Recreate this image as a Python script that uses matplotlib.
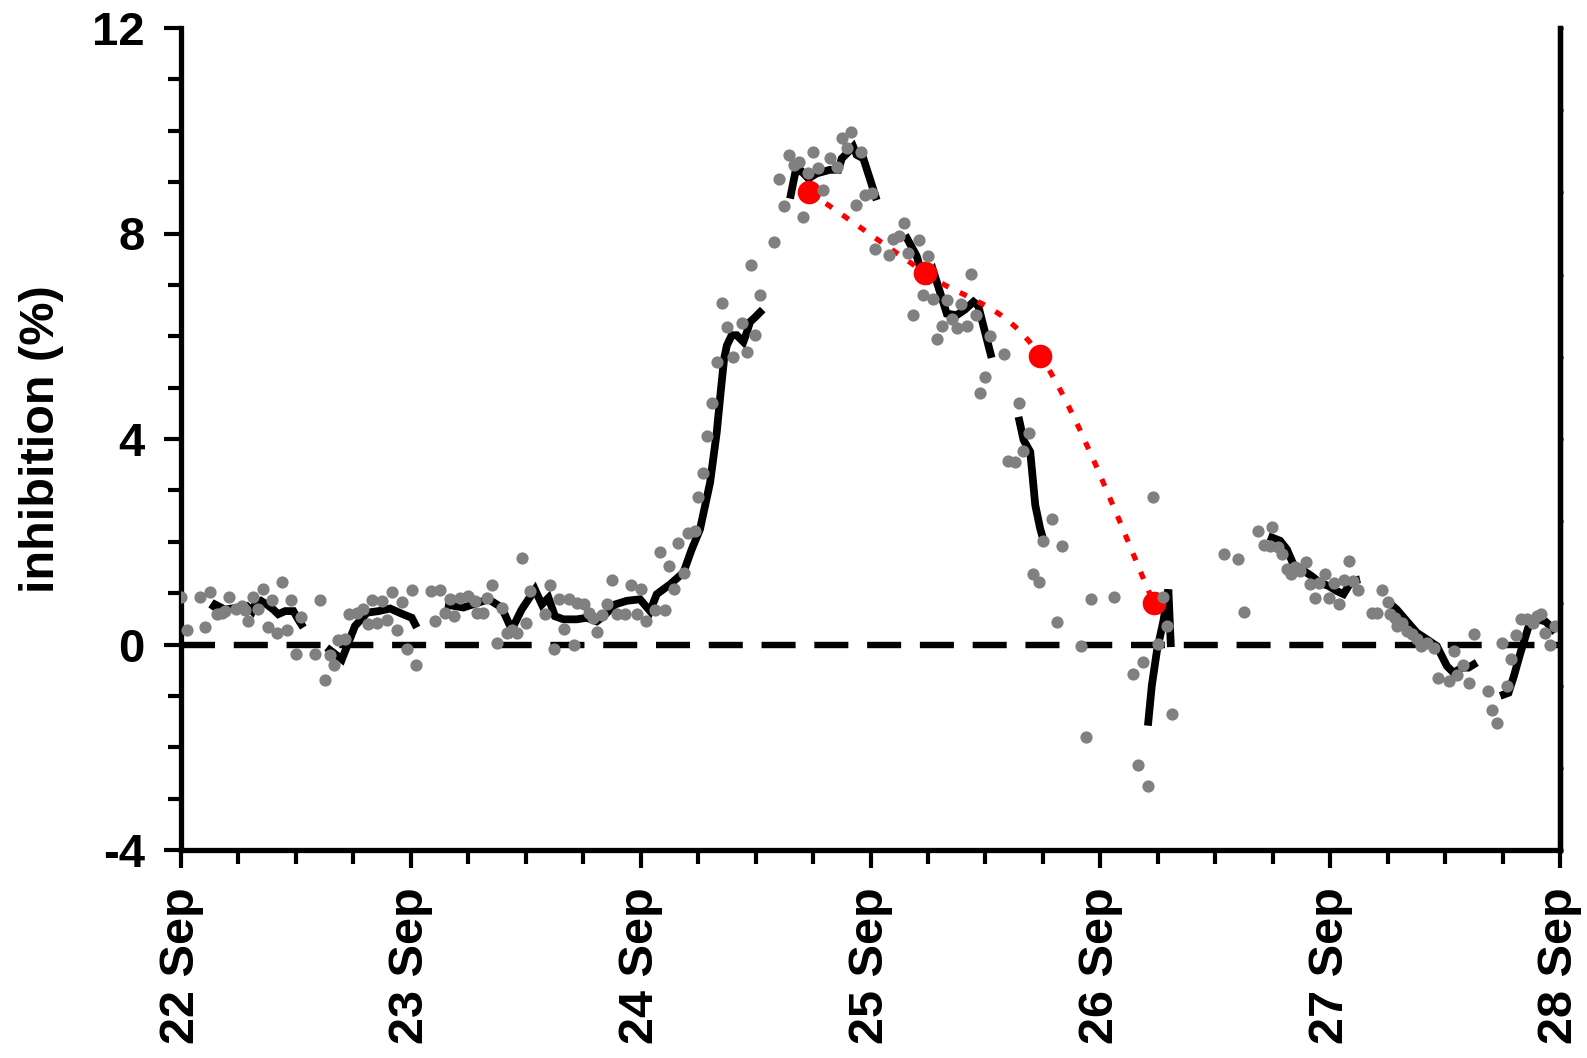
import numpy as np
import matplotlib
matplotlib.use("Agg")
import matplotlib.pyplot as plt
from matplotlib.path import Path
from matplotlib.patches import PathPatch

plt.rcParams['font.family'] = ['Liberation Sans', 'DejaVu Sans']
plt.rcParams['font.weight'] = 'bold'
plt.rcParams['lines.scale_dashes'] = False

# ---------------- data (x = days since 22 Sep 00:00) ----------------
obs_day = [0.000, 0.025, 0.083, 0.104, 0.126, 0.155, 0.177, 0.191, 0.210, 0.239,
           0.264, 0.278, 0.293, 0.315, 0.334, 0.356, 0.377, 0.397, 0.416, 0.438,
           0.460, 0.479, 0.500, 0.522, 0.583, 0.605, 0.627, 0.648, 0.667, 0.685,
           0.714, 0.731, 0.765, 0.793, 0.812, 0.833, 0.852, 0.873, 0.896, 0.917,
           0.938, 0.960, 0.982, 1.004, 1.021, 1.088, 1.105, 1.129, 1.147, 1.171,
           1.188, 1.214, 1.250, 1.279, 1.287, 1.315, 1.333, 1.355, 1.376, 1.395,
           1.417, 1.439, 1.464, 1.482, 1.501, 1.519, 1.584, 1.606, 1.625, 1.646,
           1.667, 1.690, 1.710, 1.722, 1.754, 1.775, 1.794, 1.812, 1.833, 1.853,
           1.874, 1.896, 1.932, 1.958, 1.983, 2.002, 2.023, 2.063, 2.084, 2.106,
           2.125, 2.147, 2.164, 2.189, 2.208, 2.237, 2.248, 2.273, 2.290, 2.312,
           2.334, 2.353, 2.375, 2.403, 2.440, 2.462, 2.479, 2.498, 2.520, 2.582,
           2.604, 2.624, 2.646, 2.665, 2.690, 2.708, 2.730, 2.749, 2.773, 2.792,
           2.824, 2.853, 2.875, 2.897, 2.914, 2.937, 2.958, 2.977, 3.005, 3.020,
           3.082, 3.100, 3.124, 3.146, 3.165, 3.184, 3.209, 3.228, 3.251, 3.271,
           3.291, 3.310, 3.332, 3.353, 3.375, 3.394, 3.418, 3.436, 3.459, 3.477,
           3.499, 3.520, 3.582, 3.600, 3.629, 3.644, 3.663, 3.688, 3.706, 3.731,
           3.750, 3.789, 3.813, 3.832, 3.915, 3.937, 3.958, 4.061, 4.144, 4.166,
           4.185, 4.207, 4.228, 4.249, 4.272, 4.292, 4.311, 4.540, 4.601, 4.623,
           4.685, 4.710, 4.739, 4.749, 4.775, 4.790, 4.812, 4.830, 4.848, 4.870,
           4.896, 4.913, 4.935, 4.953, 4.978, 4.997, 5.017, 5.040, 5.061, 5.084,
           5.101, 5.123, 5.181, 5.203, 5.225, 5.250, 5.261, 5.283, 5.290, 5.312,
           5.334, 5.355, 5.377, 5.395, 5.421, 5.450, 5.471, 5.515, 5.537, 5.551,
           5.580, 5.602, 5.624, 5.685, 5.706, 5.728, 5.747, 5.769, 5.788, 5.810,
           5.830, 5.856, 5.882, 5.899, 5.917, 5.936, 5.958, 5.979]
obs_val = [0.93, 0.29, 0.92, 0.34, 1.03, 0.59, 0.62, 0.65, 0.93, 0.70,
           0.75, 0.68, 0.45, 0.93, 0.70, 1.09, 0.34, 0.86, 0.23, 1.22,
           0.29, 0.86, -0.18, 0.54, -0.18, 0.86, -0.70, -0.20, -0.39, 0.08,
           0.10, 0.59, 0.62, 0.70, 0.39, 0.86, 0.41, 0.85, 0.47, 1.02,
           0.28, 0.83, -0.08, 1.07, -0.39, 1.05, 0.45, 1.06, 0.62, 0.89,
           0.55, 0.91, 0.94, 0.85, 0.62, 0.62, 0.91, 1.16, 0.03, 0.72,
           0.23, 0.29, 0.23, 1.68, 0.42, 1.04, 0.60, 1.16, -0.08, 0.89,
           0.31, 0.88, -0.01, 0.81, 0.78, 0.62, 0.52, 0.25, 0.57, 0.78,
           1.25, 0.59, 0.59, 1.16, 0.59, 1.09, 0.45, 0.68, 1.80, 0.68,
           1.52, 1.09, 1.97, 1.40, 2.17, 2.21, 2.88, 3.34, 4.05, 4.70,
           5.50, 6.65, 6.18, 5.59, 6.25, 5.70, 7.38, 6.02, 6.80, 7.84,
           9.06, 8.53, 9.53, 9.33, 9.40, 8.33, 9.17, 9.59, 9.27, 8.85,
           9.46, 9.30, 9.85, 9.66, 9.98, 8.55, 9.59, 8.75, 8.78, 7.70,
           7.58, 7.90, 7.95, 8.20, 7.63, 6.41, 7.87, 6.81, 7.57, 6.73,
           5.94, 6.19, 6.71, 6.34, 6.16, 6.62, 6.20, 7.21, 6.41, 4.90,
           5.21, 6.00, 5.66, 3.57, 3.56, 4.70, 3.77, 4.11, 1.38, 1.22,
           2.02, 2.45, 0.43, 1.91, -0.03, -1.81, 0.88, 0.93, -0.58, -2.35,
           -0.35, -2.76, 2.88, 0.01, 0.93, 0.36, -1.35, 1.76, 1.67, 0.63,
           2.21, 1.94, 1.92, 2.29, 1.89, 1.76, 1.46, 1.37, 1.50, 1.43,
           1.61, 1.17, 0.91, 1.19, 1.37, 0.91, 1.20, 0.78, 1.25, 1.63,
           1.24, 1.07, 0.62, 0.62, 1.07, 0.83, 0.59, 0.52, 0.36, 0.42,
           0.26, 0.20, 0.10, -0.03, 0.03, -0.06, -0.65, -0.72, -0.13, -0.59,
           -0.39, -0.75, 0.21, -0.91, -1.28, -1.53, 0.02, -0.81, -0.29, 0.18,
           0.49, 0.50, 0.42, 0.55, 0.59, 0.23, 0.00, 0.36]

# running-mean curve, broken into segments (NaN = gap)
mean_day = [0.133, 0.148, 0.191, 0.249, 0.286, 0.310, 0.322, 0.348, 0.373, 0.402,
            0.423, 0.453, 0.489, 0.510, 0.532, np.nan,
            0.634, 0.700, 0.757, 0.810, 0.860, 0.910, 0.960, 1.004, 1.026, np.nan,
            1.149, 1.229, 1.338, 1.395, 1.439, 1.482, 1.540, 1.570, 1.599, 1.627,
            1.664, 1.722, 1.765, 1.809, 1.838, 1.889, 1.939, 1.997, 2.041, 2.070,
            2.128, 2.186, 2.222, 2.258, 2.302, 2.331, 2.348, 2.363, 2.375, 2.396,
            2.418, 2.447, 2.462, 2.476, 2.498, 2.531, np.nan,
            2.650, 2.672, 2.694, 2.730, 2.766, 2.824, 2.860, 2.875, 2.904, 2.925,
            2.940, 2.969, 3.027, np.nan,
            3.151, 3.201, 3.223, 3.252, 3.274, 3.332, 3.375, 3.411, 3.448, 3.469,
            3.527, np.nan,
            3.644, 3.666, 3.695, 3.717, 3.738, 3.752, np.nan,
            4.207, 4.224, 4.246, 4.275, 4.296, 4.307, np.nan,
            4.731, 4.782, 4.812, 4.840, 4.877, 4.920, 4.956, 4.993, 5.029, 5.058,
            5.080, 5.101, 5.130, np.nan,
            5.247, 5.290, 5.334, 5.377, 5.421, 5.464, 5.508, 5.537, 5.573, 5.602,
            5.638, np.nan,
            5.740, 5.776, 5.799, 5.828, 5.864, 5.901, 5.936, 5.958, 5.979]
mean_val = [0.68, 0.78, 0.68, 0.72, 0.75, 0.65, 0.78, 0.85, 0.78, 0.68,
            0.59, 0.65, 0.65, 0.49, 0.33, np.nan,
            -0.06, -0.29, 0.36, 0.62, 0.65, 0.70, 0.60, 0.52, 0.33, np.nan,
            0.78, 0.72, 0.88, 0.72, 0.29, 0.68, 1.07, 0.78, 0.91, 0.55,
            0.49, 0.49, 0.52, 0.45, 0.55, 0.78, 0.85, 0.88, 0.65, 0.98,
            1.17, 1.40, 1.85, 2.24, 3.15, 4.13, 4.91, 5.56, 5.82, 6.02,
            6.02, 5.89, 6.08, 6.28, 6.37, 6.52, np.nan,
            8.68, 9.17, 9.24, 9.07, 9.17, 9.24, 9.24, 9.46, 9.59, 9.69,
            9.53, 9.46, 8.65, np.nan,
            7.97, 7.56, 7.23, 7.11, 7.26, 6.44, 6.41, 6.52, 6.67, 6.59,
            5.58, np.nan,
            4.43, 3.98, 3.75, 2.71, 2.26, 2.04, np.nan,
            -1.58, -0.80, -0.13, 0.47, 1.07, -0.05, np.nan,
            2.11, 2.02, 1.85, 1.56, 1.46, 1.33, 1.20, 1.14, 1.04, 0.98,
            1.14, 1.24, 1.27, np.nan,
            0.85, 0.68, 0.45, 0.23, 0.10, -0.03, -0.42, -0.55, -0.45, -0.45,
            -0.35, np.nan,
            -1.00, -0.94, -0.62, -0.16, 0.36, 0.49, 0.45, 0.36, 0.23]

red_day = [2.734, 3.238, 3.738, 4.234]
red_val = [8.81, 7.23, 5.62, 0.80]

tick_labels = ['22 Sep', '23 Sep', '24 Sep', '25 Sep', '26 Sep', '27 Sep', '28 Sep']
y_ticks = [-4, 0, 4, 8, 12]

# ---------------- figure ----------------
W, H = 1587, 1058
fig = plt.figure(figsize=(W / 100, H / 100), dpi=100)
ax = fig.add_axes([181 / W, (H - 850) / H, (1560 - 181) / W, (850 - 28) / H])

ax.set_xlim(0, 6)
ax.set_ylim(-4, 12)

# zero reference line
ax.axhline(0, color='black', lw=4.6, linestyle=(0, (24.5, 13.5)), zorder=1)

# running mean
ax.plot(mean_day, mean_val, color='black', lw=5.6, solid_joinstyle='miter',
        solid_capstyle='butt', zorder=2)

# smoothed red dotted line through red points (Bezier, Catmull-Rom control points)
pts = np.column_stack([red_day, red_val])
verts = [tuple(pts[0])]
codes = [Path.MOVETO]
n = len(pts)
for i in range(n - 1):
    p0 = pts[i - 1] if i > 0 else pts[i]
    p1 = pts[i]
    p2 = pts[i + 1]
    p3 = pts[i + 2] if i + 2 < n else pts[i + 1]
    c1 = p1 + (p2 - p0) / 6.0
    c2 = p2 - (p3 - p1) / 6.0
    verts += [tuple(c1), tuple(c2), tuple(p2)]
    codes += [Path.CURVE4, Path.CURVE4, Path.CURVE4]
patch = PathPatch(Path(verts, codes), facecolor='none', edgecolor='#ff0000',
                  lw=3.8, linestyle=(0, (5.5, 9.0)), capstyle='butt', zorder=3)
ax.add_patch(patch)

ax.plot(red_day, red_val, 'o', color='#ff0000', markersize=17, markeredgewidth=0,
        zorder=4)

# observations
ax.plot(obs_day, obs_val, 'o', color='#808080', markersize=8.8, markeredgewidth=0,
        zorder=5)

# axes styling
for s in ['left', 'bottom', 'right']:
    ax.spines[s].set_linewidth(3.8)
ax.spines['top'].set_visible(False)

ax.set_xticks(range(7))
ax.set_xticklabels(tick_labels, rotation=90, fontsize=35, fontweight='bold')
ax.set_xticks(np.arange(0, 6.01, 0.25), minor=True)
ax.set_yticks(y_ticks)
ax.set_yticklabels([str(v) for v in y_ticks], fontsize=34, fontweight='bold')
ax.set_yticks(range(-4, 13), minor=True)

ax.tick_params(axis='x', which='major', length=13, width=3, direction='out', pad=14)
ax.tick_params(axis='x', which='minor', length=10, width=3, direction='out')
ax.tick_params(axis='y', which='major', length=12, width=3, direction='out', pad=14)
ax.tick_params(axis='y', which='minor', length=9.5, width=3, direction='out')

ax.set_ylabel('inhibition (%)', fontsize=35, fontweight='bold')
ax.yaxis.set_label_coords(-0.085, 0.5)

# right-hand axis with tiny ticks
ax2 = ax.twinx()
ax2.set_ylim(0, 10)
ax2.set_yticks(range(11))
ax2.tick_params(axis='y', length=2, width=2, direction='out', labelright=False)
for s in ['left', 'bottom', 'top']:
    ax2.spines[s].set_visible(False)
ax2.spines['right'].set_linewidth(3.8)

fig.savefig('out.png', dpi=100)
